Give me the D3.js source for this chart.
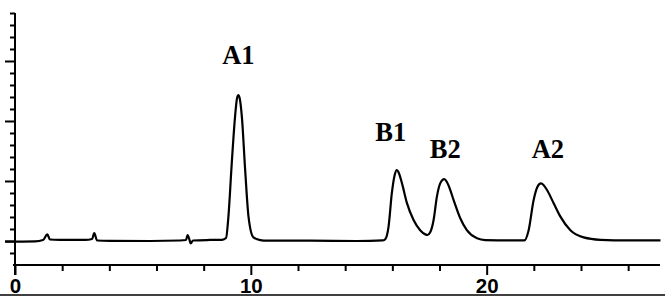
<!DOCTYPE html>
<html>
<head lang="en">
    <meta charset="UTF-8">
    <title>Chromatogram</title>
    <script src="https://cdn.jsdelivr.net/npm/d3@7/dist/d3.min.js" charset="utf-8"></script>
    <style>
        body { margin: 0; background: #fff; }
    </style>
</head>
<body>
    <script>
        // trace: retention time (min) and detector signal
        var time = [-0.42, 0.85, 1.19, 1.37, 1.48, 1.91, 2.97, 3.27, 3.36, 3.48, 4.03, 5.73, 6.99, 7.25, 7.32, 7.4, 7.45, 7.55, 8.27, 8.78,
            8.95, 9.05, 9.19, 9.33, 9.42, 9.47, 9.52, 9.62, 9.76, 9.9, 10.11, 10.4, 10.68,
            12.5, 14.5, 15.6,
            15.7, 15.84, 15.98, 16.1, 16.19, 16.28, 16.41, 16.62, 16.9, 17.18, 17.4, 17.49, 17.6,
            17.75, 17.89, 18.03, 18.2, 18.38, 18.6, 18.88, 19.16, 19.59, 19.94, 21.0, 21.6,
            21.78, 21.99, 22.15, 22.3, 22.42, 22.56, 22.84, 23.12, 23.55, 24.11, 24.82, 26.0, 27.37];
        var signal = [-0.01, -0.005, 0.017, 0.11, 0.025, 0.02, 0.017, 0.033, 0.13, 0.008, 0.003, 0, 0.008, 0.017, 0.1, 0.017, -0.04, 0.008, 0.017, 0.02,
            0.05, 0.41, 1.29, 2.07, 2.39, 2.43, 2.39, 2.07, 1.18, 0.41, 0.06, 0.015, 0.005,
            0.005, 0.0, 0.01,
            0.03, 0.24, 0.8, 1.1, 1.18, 1.13, 0.96, 0.63, 0.35, 0.18, 0.11, 0.1, 0.14,
            0.35, 0.74, 0.96, 1.03, 0.93, 0.68, 0.38, 0.18, 0.045, 0.015, 0.01, 0.01,
            0.18, 0.68, 0.9, 0.96, 0.93, 0.85, 0.63, 0.41, 0.18, 0.06, 0.02, 0.01, 0.01];

        var peakNames = ["A1", "B1", "B2", "A2"];
        var peakTimes = [9.47, 16.19, 18.2, 22.3];
        var peakHeights = [2.43, 1.18, 1.03, 0.96];

        var xMajorTicks = [0, 10, 20];
        var xMinorTicks = [2, 4, 6, 8, 12, 14, 16, 18, 22, 24, 26];
        var yMajorTicks = [0, 1, 2, 3];
        var yMinorTicks = [-0.2, 0.2, 0.4, 0.6, 0.8, 1.2, 1.4, 1.6, 1.8, 2.2, 2.4, 2.6, 2.8, 3.2, 3.4, 3.6, 3.8];

        // label placement relative to the peak apex (px)
        var labelDx = [0, -6, 1, 7];
        var labelDy = [31, 29, 21, 25];

        var w = 665;
        var h = 300;

        var svg = d3.select("body")
                .append("svg")
                .attr("width", w)
                .attr("height", h);

        var x = d3.scaleLinear().domain([-0.085, 27.35]).range([13, 660]);
        var y = d3.scaleLinear().domain([-0.567, 3.8]).range([275, 13]);
        var axisY = 265;

        // x axis
        var xAxisG = svg.append("g").attr("transform", "translate(0," + axisY + ")");
        xAxisG.append("line")
                .attr("x1", x.range()[0]).attr("x2", x.range()[1])
                .attr("stroke", "#000").attr("stroke-width", 2);
        xAxisG.append("g")
                .call(d3.axisBottom(x).tickValues(xMinorTicks).tickSize(6).tickSizeOuter(0).tickFormat(""))
                .call(function (g) { g.select(".domain").remove(); })
                .selectAll("line").attr("stroke-width", 2);
        xAxisG.append("g")
                .call(d3.axisBottom(x).tickValues(xMajorTicks).tickSize(10).tickSizeOuter(0).tickPadding(3))
                .call(function (g) { g.select(".domain").remove(); })
                .call(function (g) {
                    g.selectAll("line").attr("stroke-width", 2);
                    g.selectAll("text")
                            .attr("font-family", "Liberation Sans, Arial, sans-serif")
                            .attr("font-weight", "bold")
                            .attr("font-size", 20.5)
                            .attr("fill", "#000");
                });

        // y axis
        var yAxisG = svg.append("g").attr("transform", "translate(" + x(0) + ",0)");
        yAxisG.append("line")
                .attr("y1", y.range()[1]).attr("y2", y.range()[0])
                .attr("stroke", "#000").attr("stroke-width", 2);
        yAxisG.append("g")
                .call(d3.axisLeft(y).tickValues(yMinorTicks).tickSize(5).tickSizeOuter(0).tickFormat(""))
                .call(function (g) { g.select(".domain").remove(); })
                .selectAll("line").attr("stroke-width", 2);
        yAxisG.append("g")
                .call(d3.axisLeft(y).tickValues(yMajorTicks).tickSize(10).tickSizeOuter(0).tickFormat(""))
                .call(function (g) { g.select(".domain").remove(); })
                .selectAll("line").attr("stroke-width", 2);

        // bottom rule
        svg.append("line")
                .attr("x1", 0).attr("x2", w)
                .attr("y1", 295).attr("y2", 295)
                .attr("stroke", "#000").attr("stroke-width", 1.5);

        // trace
        var pts = time.map(function (t, i) { return [t, signal[i]]; });
        var line = d3.line()
                .x(function (d) { return x(d[0]); })
                .y(function (d) { return y(d[1]); })
                .curve(d3.curveMonotoneX);

        svg.append("path")
                .datum(pts)
                .attr("d", line)
                .attr("fill", "none")
                .attr("stroke", "#000")
                .attr("stroke-width", 2.2)
                .attr("stroke-linejoin", "round");

        // peak labels
        svg.selectAll("text.peak")
                .data(peakNames)
                .enter()
                .append("text")
                .attr("class", "peak")
                .text(function (d) { return d; })
                .attr("text-anchor", "middle")
                .attr("x", function (d, i) { return x(peakTimes[i]) + labelDx[i]; })
                .attr("y", function (d, i) { return y(peakHeights[i]) - labelDy[i]; })
                .attr("font-family", "Liberation Serif, Times New Roman, serif")
                .attr("font-weight", "bold")
                .attr("font-size", 26.5)
                .attr("fill", "#000");
    </script>
</body>
</html>
